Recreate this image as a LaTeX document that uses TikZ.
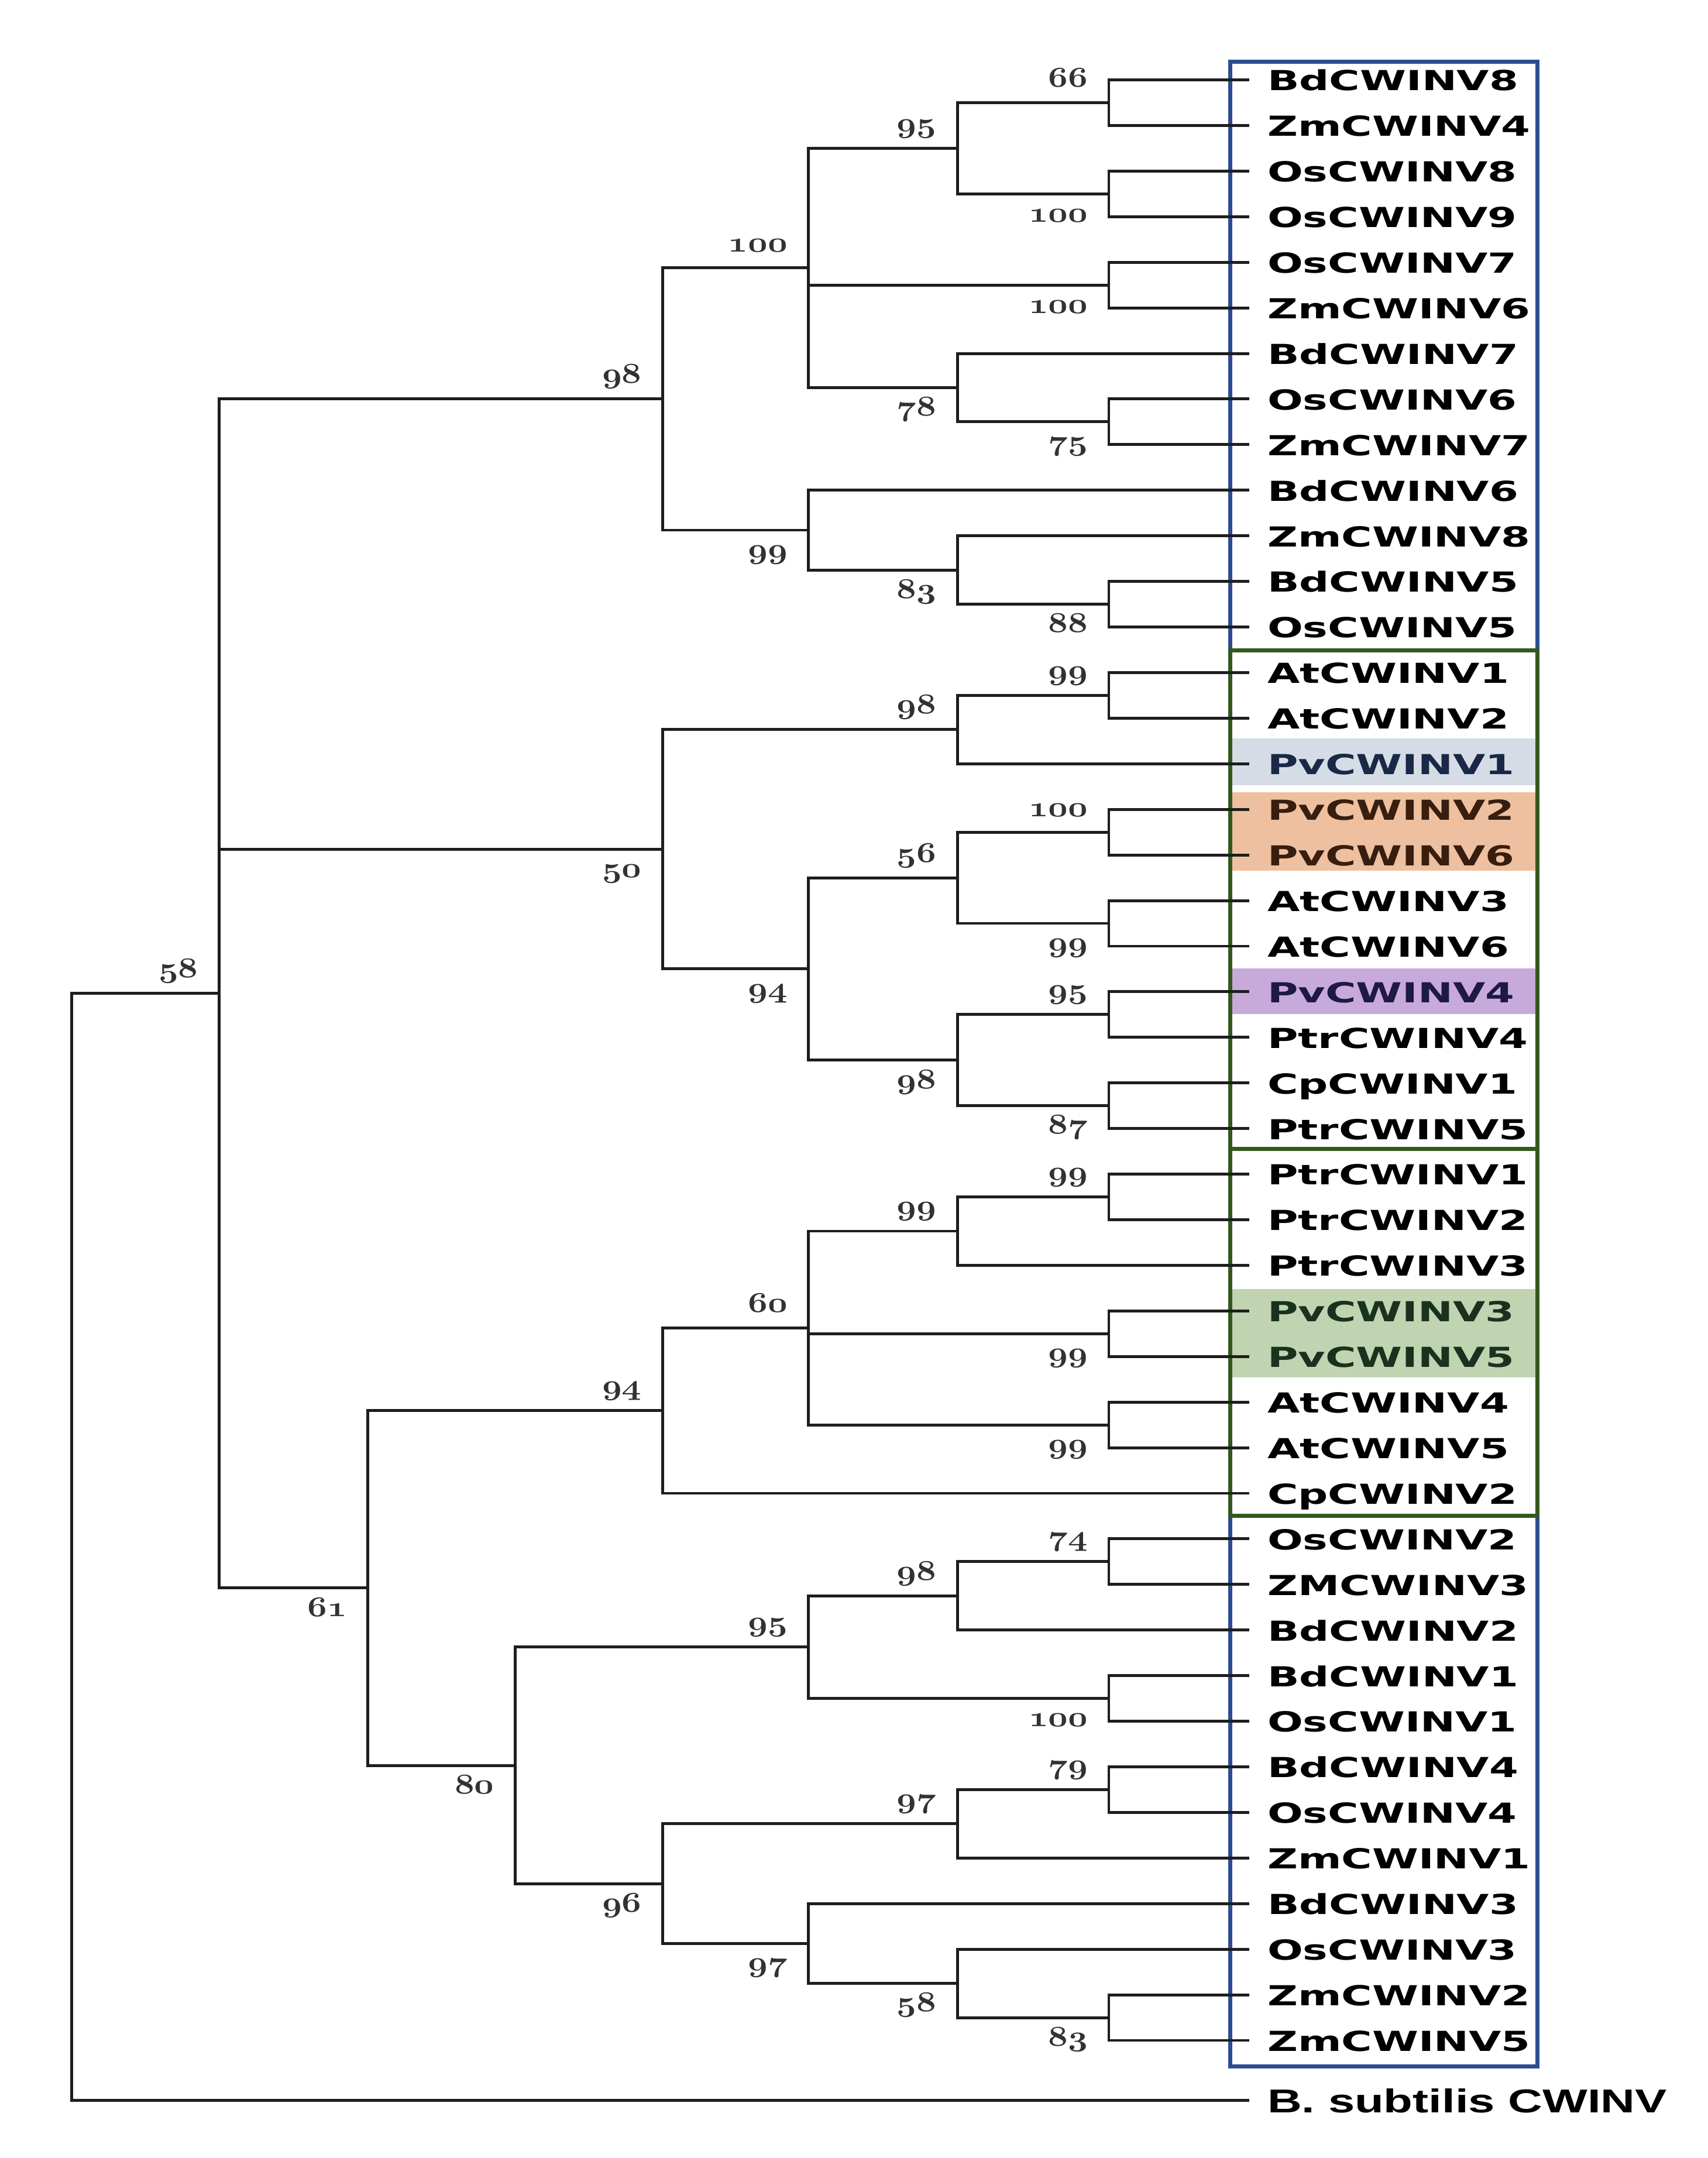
\documentclass[tikz,border=0pt]{standalone}
\usepackage{fontspec}
\usepackage{graphicx}
\newfontfamily\leaffont[FakeStretch=1.52]{DejaVu Sans}
\newfontfamily\bsubfont[FakeStretch=1.44]{Liberation Sans}
\newcommand\bootfont{\fontsize{20.74}{24}\usefont{OML}{cmm}{b}{it}}
\newcommand\bv[1]{\scalebox{1.2}[1]{#1}}
\newcommand\kids[2]{\foreach \c in {#2}{\draw[branch] (#1) |- (\c);}}
\definecolor{treeblack}{RGB}{30,30,30}
\definecolor{bootgray}{RGB}{50,50,50}
\definecolor{boxblue}{RGB}{44,77,145}
\definecolor{boxgreen}{RGB}{52,88,30}
\definecolor{hlgray}{RGB}{214,220,229}
\definecolor{hlorange}{RGB}{238,192,160}
\definecolor{hlpurple}{RGB}{200,170,218}
\definecolor{hlgreen}{RGB}{192,212,178}
\definecolor{pvone}{RGB}{25,40,70}
\definecolor{pvtwo}{RGB}{55,30,15}
\definecolor{pvfour}{RGB}{30,25,70}
\definecolor{pvthree}{RGB}{25,50,30}
\begin{document}
\begin{tikzpicture}[x=1pt,y=-1pt,
  branch/.style={draw=treeblack,line width=2.1pt,line join=miter},
  leaf/.style={anchor=base west,inner sep=0,font={\leaffont\bfseries\fontsize{20}{24}\selectfont}},
  bsub/.style={anchor=base west,inner sep=0,font={\bsubfont\bfseries\fontsize{24}{28}\selectfont}},
  boot/.style={anchor=base east,inner sep=0,text=bootgray,font=\bootfont},
  bootup/.style={boot,shift={(-15,-11.5)}},
  bootdn/.style={boot,shift={(-15,20.5)}},
  cladebox/.style={line width=3pt},
  leafpos/.style={shift={(13,7.8)}}]
\useasboundingbox (0,0) rectangle (1240,1566.7);
% highlight bands
\fill[hlgray]   (894,536) rectangle (1115,570);
\fill[hlorange] (894,575) rectangle (1115,632);
\fill[hlpurple] (894,703) rectangle (1115,736);
\fill[hlgreen]  (894,936) rectangle (1115,1000);
% clade boxes
\draw[cladebox,boxblue] (893,45) rectangle (1116,472);
\draw[cladebox,boxblue] (893,1100.5) rectangle (1116,1500);
\draw[cladebox,boxgreen] (893,472) rectangle (1116,834);
\draw[cladebox,boxgreen] (893,834) rectangle (1116,1100.5);
% leaf tips
\coordinate (l1) at (907,58.0);
\coordinate (l2) at (907,91.1);
\coordinate (l3) at (907,124.2);
\coordinate (l4) at (907,157.3);
\coordinate (l5) at (907,190.4);
\coordinate (l6) at (907,223.5);
\coordinate (l7) at (907,256.6);
\coordinate (l8) at (907,289.7);
\coordinate (l9) at (907,322.8);
\coordinate (l10) at (907,355.9);
\coordinate (l11) at (907,389.0);
\coordinate (l12) at (907,422.1);
\coordinate (l13) at (907,455.2);
\coordinate (l14) at (907,488.3);
\coordinate (l15) at (907,521.4);
\coordinate (l16) at (907,554.5);
\coordinate (l17) at (907,587.6);
\coordinate (l18) at (907,620.7);
\coordinate (l19) at (907,653.8);
\coordinate (l20) at (907,686.9);
\coordinate (l21) at (907,720.0);
\coordinate (l22) at (907,753.1);
\coordinate (l23) at (907,786.2);
\coordinate (l24) at (907,819.3);
\coordinate (l25) at (907,852.4);
\coordinate (l26) at (907,885.5);
\coordinate (l27) at (907,918.6);
\coordinate (l28) at (907,951.7);
\coordinate (l29) at (907,984.8);
\coordinate (l30) at (907,1017.9);
\coordinate (l31) at (907,1051.0);
\coordinate (l32) at (907,1084.1);
\coordinate (l33) at (907,1117.2);
\coordinate (l34) at (907,1150.3);
\coordinate (l35) at (907,1183.4);
\coordinate (l36) at (907,1216.5);
\coordinate (l37) at (907,1249.6);
\coordinate (l38) at (907,1282.7);
\coordinate (l39) at (907,1315.8);
\coordinate (l40) at (907,1348.9);
\coordinate (l41) at (907,1382.0);
\coordinate (l42) at (907,1415.1);
\coordinate (l43) at (907,1448.2);
\coordinate (l44) at (907,1481.3);
\coordinate (lB) at (907,1525);
% internal nodes
\coordinate (n12) at (805,74.55);
\coordinate (n34) at (805,140.75);
\coordinate (n1234) at (695,107.65);
\coordinate (n56) at (805,206.95);
\coordinate (n89) at (805,306.25);
\coordinate (n789) at (695,281.43);
\coordinate (nA) at (587,194.54);
\coordinate (n1213) at (805,438.65);
\coordinate (n111213) at (695,413.83);
\coordinate (nB) at (587,384.86);
\coordinate (nC) at (481,289.7);
\coordinate (n1415) at (805,504.85);
\coordinate (n141516) at (695,529.68);
\coordinate (n1718) at (805,604.15);
\coordinate (n1920) at (805,670.35);
\coordinate (n56n) at (695,637.25);
\coordinate (n2122) at (805,736.55);
\coordinate (n2324) at (805,802.75);
\coordinate (n98b) at (695,769.65);
\coordinate (n94a) at (587,703.45);
\coordinate (n50) at (481,616.56);
\coordinate (n2526) at (805,868.95);
\coordinate (n99c) at (695,893.78);
\coordinate (n2829) at (805,968.25);
\coordinate (n3031) at (805,1034.45);
\coordinate (n60) at (587,964.11);
\coordinate (n94b) at (481,1024.1);
\coordinate (n3334) at (805,1133.75);
\coordinate (n98c) at (695,1158.58);
\coordinate (n3637) at (805,1233.05);
\coordinate (n95b) at (587,1195.8);
\coordinate (n3839) at (805,1299.25);
\coordinate (n97a) at (695,1324.08);
\coordinate (n4344) at (805,1464.75);
\coordinate (n58b) at (695,1439.93);
\coordinate (n97b) at (587,1410.96);
\coordinate (n96) at (481,1367.52);
\coordinate (n80) at (374,1281.66);
\coordinate (n61) at (267,1152.88);
\coordinate (ng) at (159,721.29);
\coordinate (root) at (52,1123.1);
% branches
\kids{n12}{l1,l2}
\kids{n34}{l3,l4}
\kids{n1234}{n12,n34}
\kids{n56}{l5,l6}
\kids{n89}{l8,l9}
\kids{n789}{l7,n89}
\kids{nA}{n1234,n56,n789}
\kids{n1213}{l12,l13}
\kids{n111213}{l11,n1213}
\kids{nB}{l10,n111213}
\kids{nC}{nA,nB}
\kids{n1415}{l14,l15}
\kids{n141516}{n1415,l16}
\kids{n1718}{l17,l18}
\kids{n1920}{l19,l20}
\kids{n56n}{n1718,n1920}
\kids{n2122}{l21,l22}
\kids{n2324}{l23,l24}
\kids{n98b}{n2122,n2324}
\kids{n94a}{n56n,n98b}
\kids{n50}{n141516,n94a}
\kids{n2526}{l25,l26}
\kids{n99c}{n2526,l27}
\kids{n2829}{l28,l29}
\kids{n3031}{l30,l31}
\kids{n60}{n99c,n2829,n3031}
\kids{n94b}{n60,l32}
\kids{n3334}{l33,l34}
\kids{n98c}{n3334,l35}
\kids{n3637}{l36,l37}
\kids{n95b}{n98c,n3637}
\kids{n3839}{l38,l39}
\kids{n97a}{n3839,l40}
\kids{n4344}{l43,l44}
\kids{n58b}{l42,n4344}
\kids{n97b}{l41,n58b}
\kids{n96}{n97a,n97b}
\kids{n80}{n95b,n96}
\kids{n61}{n94b,n80}
\kids{ng}{nC,n50,n61}
\kids{root}{ng,lB}
% bootstrap values
\node[bootup] (b12) at (n12) {\bv{66}};
\node[bootdn] (b34) at (n34) {\bv{100}};
\node[bootup] (b1234) at (n1234) {\bv{95}};
\node[bootdn] (b56) at (n56) {\bv{100}};
\node[bootdn] (b89) at (n89) {\bv{75}};
\node[bootdn] (b789) at (n789) {\bv{78}};
\node[bootup] (bA) at (nA) {\bv{100}};
\node[bootdn] (b1213) at (n1213) {\bv{88}};
\node[bootdn] (b111213) at (n111213) {\bv{83}};
\node[bootdn] (bB) at (nB) {\bv{99}};
\node[bootup] (bC) at (nC) {\bv{98}};
\node[bootup] (b1415) at (n1415) {\bv{99}};
\node[bootup] (b141516) at (n141516) {\bv{98}};
\node[bootup] (b1718) at (n1718) {\bv{100}};
\node[bootdn] (b1920) at (n1920) {\bv{99}};
\node[bootup] (b56n) at (n56n) {\bv{56}};
\node[bootup] (b2122) at (n2122) {\bv{95}};
\node[bootdn] (b2324) at (n2324) {\bv{87}};
\node[bootdn] (b98b) at (n98b) {\bv{98}};
\node[bootdn] (b94a) at (n94a) {\bv{94}};
\node[bootdn] (b50) at (n50) {\bv{50}};
\node[bootup] (b2526) at (n2526) {\bv{99}};
\node[bootup] (b99c) at (n99c) {\bv{99}};
\node[bootdn] (b2829) at (n2829) {\bv{99}};
\node[bootdn] (b3031) at (n3031) {\bv{99}};
\node[bootup] (b60) at (n60) {\bv{60}};
\node[bootup] (b94b) at (n94b) {\bv{94}};
\node[bootup] (b3334) at (n3334) {\bv{74}};
\node[bootup] (b98c) at (n98c) {\bv{98}};
\node[bootdn] (b3637) at (n3637) {\bv{100}};
\node[bootup] (b95b) at (n95b) {\bv{95}};
\node[bootup] (b3839) at (n3839) {\bv{79}};
\node[bootup] (b97a) at (n97a) {\bv{97}};
\node[bootdn] (b4344) at (n4344) {\bv{83}};
\node[bootdn] (b58b) at (n58b) {\bv{58}};
\node[bootdn] (b97b) at (n97b) {\bv{97}};
\node[bootdn] (b96) at (n96) {\bv{96}};
\node[bootdn] (b80) at (n80) {\bv{80}};
\node[bootdn] (b61) at (n61) {\bv{61}};
\node[bootup] (bg) at (ng) {\bv{58}};
% leaf labels
\node[leaf] (t1) at ([leafpos]l1) {BdCWINV8};
\node[leaf] (t2) at ([leafpos]l2) {ZmCWINV4};
\node[leaf] (t3) at ([leafpos]l3) {OsCWINV8};
\node[leaf] (t4) at ([leafpos]l4) {OsCWINV9};
\node[leaf] (t5) at ([leafpos]l5) {OsCWINV7};
\node[leaf] (t6) at ([leafpos]l6) {ZmCWINV6};
\node[leaf] (t7) at ([leafpos]l7) {BdCWINV7};
\node[leaf] (t8) at ([leafpos]l8) {OsCWINV6};
\node[leaf] (t9) at ([leafpos]l9) {ZmCWINV7};
\node[leaf] (t10) at ([leafpos]l10) {BdCWINV6};
\node[leaf] (t11) at ([leafpos]l11) {ZmCWINV8};
\node[leaf] (t12) at ([leafpos]l12) {BdCWINV5};
\node[leaf] (t13) at ([leafpos]l13) {OsCWINV5};
\node[leaf] (t14) at ([leafpos]l14) {AtCWINV1};
\node[leaf] (t15) at ([leafpos]l15) {AtCWINV2};
\node[leaf,text=pvone] (t16) at ([leafpos]l16) {PvCWINV1};
\node[leaf,text=pvtwo] (t17) at ([leafpos]l17) {PvCWINV2};
\node[leaf,text=pvtwo] (t18) at ([leafpos]l18) {PvCWINV6};
\node[leaf] (t19) at ([leafpos]l19) {AtCWINV3};
\node[leaf] (t20) at ([leafpos]l20) {AtCWINV6};
\node[leaf,text=pvfour] (t21) at ([leafpos]l21) {PvCWINV4};
\node[leaf] (t22) at ([leafpos]l22) {PtrCWINV4};
\node[leaf] (t23) at ([leafpos]l23) {CpCWINV1};
\node[leaf] (t24) at ([leafpos]l24) {PtrCWINV5};
\node[leaf] (t25) at ([leafpos]l25) {PtrCWINV1};
\node[leaf] (t26) at ([leafpos]l26) {PtrCWINV2};
\node[leaf] (t27) at ([leafpos]l27) {PtrCWINV3};
\node[leaf,text=pvthree] (t28) at ([leafpos]l28) {PvCWINV3};
\node[leaf,text=pvthree] (t29) at ([leafpos]l29) {PvCWINV5};
\node[leaf] (t30) at ([leafpos]l30) {AtCWINV4};
\node[leaf] (t31) at ([leafpos]l31) {AtCWINV5};
\node[leaf] (t32) at ([leafpos]l32) {CpCWINV2};
\node[leaf] (t33) at ([leafpos]l33) {OsCWINV2};
\node[leaf] (t34) at ([leafpos]l34) {ZMCWINV3};
\node[leaf] (t35) at ([leafpos]l35) {BdCWINV2};
\node[leaf] (t36) at ([leafpos]l36) {BdCWINV1};
\node[leaf] (t37) at ([leafpos]l37) {OsCWINV1};
\node[leaf] (t38) at ([leafpos]l38) {BdCWINV4};
\node[leaf] (t39) at ([leafpos]l39) {OsCWINV4};
\node[leaf] (t40) at ([leafpos]l40) {ZmCWINV1};
\node[leaf] (t41) at ([leafpos]l41) {BdCWINV3};
\node[leaf] (t42) at ([leafpos]l42) {OsCWINV3};
\node[leaf] (t43) at ([leafpos]l43) {ZmCWINV2};
\node[leaf] (t44) at ([leafpos]l44) {ZmCWINV5};
\node[bsub] (tB) at ([shift={(13,8.6)}]lB) {B. subtilis CWINV};
\end{tikzpicture}
\end{document}
